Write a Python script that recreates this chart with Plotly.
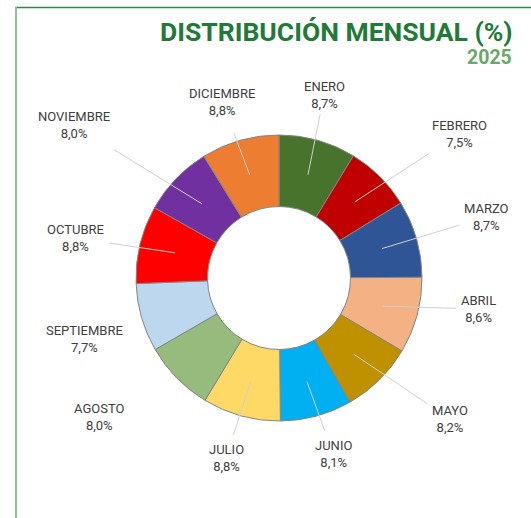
import math
import plotly.graph_objects as go

# ---- data ----
months = ["ENERO", "FEBRERO", "MARZO", "ABRIL", "MAYO", "JUNIO",
          "JULIO", "AGOSTO", "SEPTIEMBRE", "OCTUBRE", "NOVIEMBRE", "DICIEMBRE"]
shares = [8.7, 7.5, 8.7, 8.6, 8.2, 8.1, 8.8, 8.0, 7.7, 8.8, 8.0, 8.8]
colors = ["#48732c", "#c00000", "#2f5597", "#f4b183", "#bf9000", "#00b0f0",
          "#ffd966", "#95bc7c", "#bdd7ee", "#ff0000", "#7030a0", "#ed7d31"]

# ---- layout constants ----
W, H = 531, 518
CX, CY, R_OUT, HOLE = 279, 278, 143, 0.5
R_MID = R_OUT * (1 + HOLE) / 2
# label centres (pixels), whether a leader line is drawn, and gap before label
label_pos = [(324, 95), (459, 134), (486, 217), (478, 309), (450, 419), (333, 454),
             (226, 458), (99, 417), (84, 339), (75, 238), (74, 125), (222, 102)]
has_line = [True, True, True, True, True, True, True, False, False, True, True, True]
line_gap = [2, 4, 3, 3, 4, 6, 6, 0, 0, 4, 14, 14]

fig = go.Figure(go.Pie(
    labels=months, values=shares, sort=False, direction="clockwise", rotation=0,
    hole=HOLE, textinfo="none", hoverinfo="label+percent",
    marker=dict(colors=colors, line=dict(color="#858585", width=1)),
    domain=dict(x=[(CX - R_OUT) / W, (CX + R_OUT) / W],
                y=[(H - CY - R_OUT) / H, (H - CY + R_OUT) / H]),
    showlegend=False,
))

total = sum(shares)
cum = 0.0
annotations = []
for m, v, (lx, ly), ln, gap in zip(months, shares, label_pos, has_line, line_gap):
    mid = (cum + v / 2) / total * 2 * math.pi
    cum += v
    px = CX + R_MID * math.sin(mid)
    py = CY - R_MID * math.cos(mid)
    txt = f"{m}<br>{v:.1f}%".replace(".", ",")
    font = dict(family="Roboto", size=13, color="#404040")
    if ln:
        annotations.append(dict(
            x=px / W, y=1 - py / H, xref="paper", yref="paper",
            ax=lx - px, ay=ly - py, axref="pixel", ayref="pixel",
            text=txt, font=font, showarrow=True, arrowhead=0, startarrowhead=0,
            arrowside="end+start", arrowwidth=1, startstandoff=gap,
            arrowcolor="#d0d0d0", standoff=0, align="center"))
    else:
        annotations.append(dict(
            x=lx / W, y=1 - ly / H, xref="paper", yref="paper",
            xanchor="center", yanchor="middle",
            text=txt, font=font, showarrow=False, align="center"))

annotations.append(dict(
    x=515 / W, y=1 - 32 / H, xref="paper", yref="paper",
    xanchor="right", yanchor="middle", showarrow=False,
    text="<b>DISTRIBUCIÓN MENSUAL (%)</b>",
    font=dict(family="Roboto", size=26.5, color="#217a37")))
annotations.append(dict(
    x=514 / W, y=1 - 57 / H, xref="paper", yref="paper",
    xanchor="right", yanchor="middle", showarrow=False,
    text="<b>2025</b>",
    font=dict(family="Roboto", size=19.5, color="#6aa86a")))

shapes = [
    dict(type="line", xref="paper", yref="paper", x0=15 / W, x1=1, y0=1 - 7.5 / H, y1=1 - 7.5 / H,
         line=dict(color="#2e8a40", width=1.5)),
    dict(type="line", xref="paper", yref="paper", x0=16 / W, x1=16 / W, y0=0, y1=1 - 7 / H,
         line=dict(color="#90c290", width=2)),
]

fig.update_layout(
    width=W, height=H, margin=dict(l=0, r=0, t=0, b=0),
    paper_bgcolor="white", plot_bgcolor="white",
    annotations=annotations, shapes=shapes,
)

fig.write_html(
    "out.html",
    config={"displayModeBar": False},
    post_script="document.body.style.margin='0';document.body.style.overflow='hidden';",
)
